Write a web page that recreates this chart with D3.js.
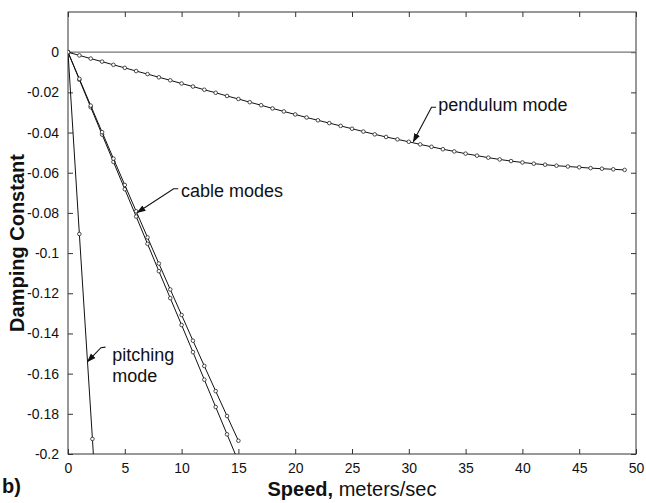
<!DOCTYPE html>
<html>
<head>
<meta charset="utf-8">
<script src="https://cdn.jsdelivr.net/npm/d3@7"></script>
<style>
  html, body { margin: 0; padding: 0; background: #fff; }
  svg { display: block; font-family: "Liberation Sans", Arial, sans-serif; }
</style>
</head>
<body>
<svg id="chart" width="646" height="503"></svg>
<script>
// ---- data ----
const speeds = d3.range(0, 50); // 0..49 m/s
const pendulum = [0, -0.0016, -0.0032, -0.0047, -0.0063, -0.0078, -0.0094, -0.0109, -0.0125, -0.0140,
  -0.0156, -0.0171, -0.0187, -0.0202, -0.0218, -0.0233, -0.0249, -0.0264, -0.0280, -0.0295,
  -0.0310, -0.0325, -0.0339, -0.0353, -0.0367, -0.0381, -0.0395, -0.0409, -0.0422, -0.0434,
  -0.0446, -0.0459, -0.0471, -0.0483, -0.0494, -0.0505, -0.0515, -0.0525, -0.0534, -0.0542,
  -0.0549, -0.0555, -0.0560, -0.0565, -0.0569, -0.0573, -0.0577, -0.0580, -0.0583, -0.0586];
const cableSpeeds = d3.range(0, 16);
const cableA = [0, -0.0137, -0.0274, -0.0410, -0.0546, -0.0682, -0.0818, -0.0954, -0.1090, -0.1224,
  -0.1358, -0.1493, -0.1630, -0.1766, -0.1902, -0.2038];
const cableB = [0, -0.0133, -0.0266, -0.0398, -0.0530, -0.0661, -0.0792, -0.0922, -0.1052, -0.1181,
  -0.1308, -0.1436, -0.1562, -0.1687, -0.1811, -0.1934];
const pitchSpeeds = [0, 1, 2.15, 3.2];
const pitching = [0, -0.0905, -0.1925, -0.29];
const xTicks = [0, 5, 10, 15, 20, 25, 30, 35, 40, 45, 50];
const yTicks = [0, -0.02, -0.04, -0.06, -0.08, -0.1, -0.12, -0.14, -0.16, -0.18, -0.2];
const yTickLabels = ["0", "-0.02", "-0.04", "-0.06", "-0.08", "-0.1", "-0.12", "-0.14", "-0.16", "-0.18", "-0.2"];

// annotations (data coordinates): text anchor, arrow tail, bend, tip
const annotations = [
  { lines: ["pendulum mode"], tx: 32.6, ty: -0.0295, path: [[32.4, -0.0274], [32.0, -0.0274], [30.4, -0.0445]] },
  { lines: ["cable modes"], tx: 9.95, ty: -0.0719, path: [[9.7, -0.0680], [9.3, -0.0680], [6.1, -0.0798]] },
  { lines: ["pitching", "mode"], tx: 3.9, ty: -0.1535, path: [[3.3, -0.1468], [2.9, -0.1471], [1.72, -0.1540]] }
];

// ---- layout ----
const svg = d3.select("#chart");
const L = 68, R = 636, T = 12, B = 454;
const x = d3.scaleLinear().domain([0, 50]).range([L, R]);
const y = d3.scaleLinear().domain([-0.2, 0.02]).range([B, T]);

svg.append("defs").append("clipPath").attr("id", "clip")
  .append("rect").attr("x", L).attr("y", T).attr("width", R - L).attr("height", B - T);
svg.select("defs").append("marker")
  .attr("id", "ah").attr("viewBox", "0 0 10 10").attr("refX", 9).attr("refY", 5)
  .attr("markerWidth", 9).attr("markerHeight", 9).attr("orient", "auto-start-reverse")
  .attr("markerUnits", "userSpaceOnUse")
  .append("path").attr("d", "M0,1.5 L10,5 L0,8.5 Z").attr("fill", "#111");

const axisColor = "#333";
// axes with inward ticks
const xAxisB = d3.axisBottom(x).tickValues(xTicks).tickSizeInner(-5).tickSizeOuter(0).tickPadding(9).tickFormat(d3.format("d"));
const xAxisT = d3.axisTop(x).tickValues(xTicks).tickSizeInner(-5).tickSizeOuter(0).tickFormat("");
const yAxisL = d3.axisLeft(y).tickValues(yTicks).tickSizeInner(-5).tickSizeOuter(0).tickPadding(9)
  .tickFormat((d, i) => yTickLabels[i]);
const yAxisR = d3.axisRight(y).tickValues(yTicks).tickSizeInner(-5).tickSizeOuter(0).tickFormat("");

function styleAxis(g) {
  g.select(".domain").remove();
  g.selectAll(".tick line").attr("stroke", axisColor);
  g.selectAll(".tick text").attr("fill", "#111").style("font-size", "14px")
    .style("font-family", '"Liberation Sans", Arial, sans-serif');
}
svg.append("g").attr("transform", `translate(0,${B})`).call(xAxisB).call(styleAxis);
svg.append("g").attr("transform", `translate(0,${T})`).call(xAxisT).call(styleAxis);
svg.append("g").attr("transform", `translate(${L},0)`).call(yAxisL).call(styleAxis);
svg.append("g").attr("transform", `translate(${R},0)`).call(yAxisR).call(styleAxis);

// frame
svg.append("rect").attr("x", L).attr("y", T).attr("width", R - L).attr("height", B - T)
  .attr("fill", "none").attr("stroke", axisColor).attr("stroke-width", 1);

// zero line
svg.append("line").attr("x1", x(0)).attr("x2", x(50)).attr("y1", y(0)).attr("y2", y(0))
  .attr("stroke", "#777").attr("stroke-width", 1.2);

const plot = svg.append("g").attr("clip-path", "url(#clip)");
const line = d3.line().x(d => x(d[0])).y(d => y(d[1]));

function series(xs, ys) {
  const pts = xs.map((s, i) => [s, ys[i]]);
  plot.append("path").attr("d", line(pts)).attr("fill", "none").attr("stroke", "#111").attr("stroke-width", 1);
  plot.selectAll(null).data(pts.filter(p => p[1] >= -0.2)).enter().append("circle")
    .attr("cx", d => x(d[0])).attr("cy", d => y(d[1])).attr("r", 1.8)
    .attr("fill", "#fff").attr("stroke", "#222").attr("stroke-width", 0.8);
}
series(speeds, pendulum);
series(cableSpeeds, cableA);
series(cableSpeeds, cableB);
series(pitchSpeeds, pitching);

// annotations
annotations.forEach(a => {
  const t = svg.append("text").attr("x", x(a.tx)).attr("y", y(a.ty))
    .style("font-size", "18px").attr("fill", "#111");
  a.lines.forEach((ln, i) => t.append("tspan").attr("x", x(a.tx)).attr("dy", i === 0 ? 0 : 21).text(ln));
  svg.append("path").attr("d", d3.line()(a.path.map(p => [x(p[0]), y(p[1])])))
    .attr("fill", "none").attr("stroke", "#111").attr("stroke-width", 1.1).attr("marker-end", "url(#ah)");
});

// axis titles
svg.append("text").attr("transform", `translate(24,${(T + B) / 2 + 10}) rotate(-90)`)
  .attr("text-anchor", "middle").style("font-size", "20px").style("font-weight", "bold").attr("fill", "#111")
  .text("Damping Constant");
const xl = svg.append("text").attr("x", (L + R) / 2).attr("y", 496).attr("text-anchor", "middle")
  .style("font-size", "20px").attr("fill", "#111");
xl.append("tspan").style("font-weight", "bold").text("Speed,");
xl.append("tspan").text(" meters/sec");
svg.append("text").attr("x", 2).attr("y", 493).style("font-size", "20px").style("font-weight", "bold")
  .attr("fill", "#111").text("b)");
</script>
</body>
</html>
